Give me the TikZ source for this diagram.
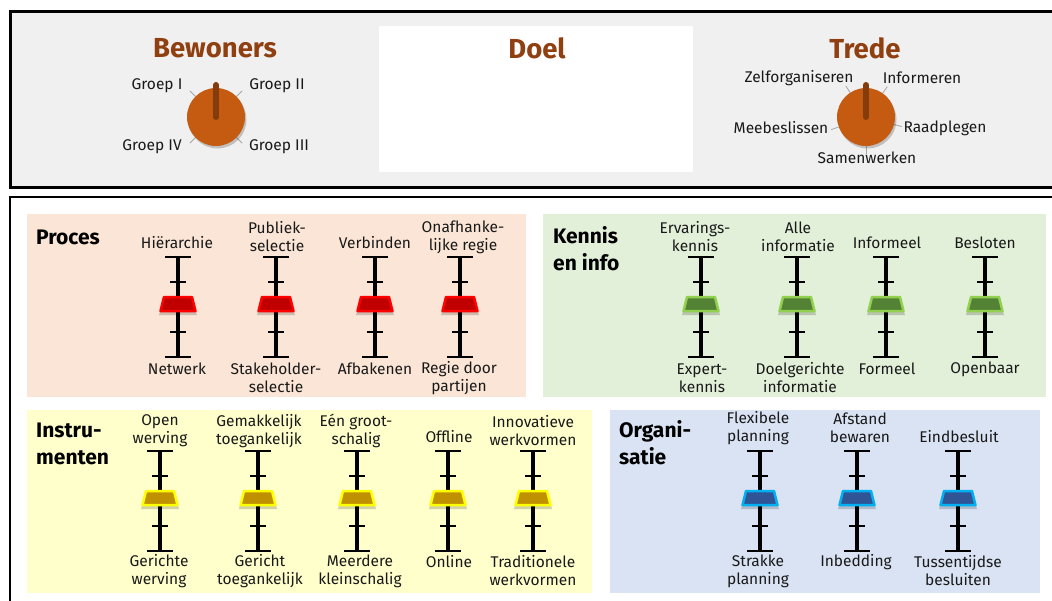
\documentclass[tikz,border=0pt]{standalone}
\usepackage{fontspec}
\setmainfont{Fira Sans}
\usetikzlibrary{calc}
\definecolor{topgray}{HTML}{F0F0F0}
\definecolor{titlebrown}{HTML}{8F3F10}
\definecolor{dialorange}{HTML}{C55A11}
\definecolor{pointerbrown}{HTML}{843C0C}
\definecolor{procfill}{HTML}{FBE5D6}
\definecolor{kennfill}{HTML}{E2F0D9}
\definecolor{instfill}{HTML}{FFFFCC}
\definecolor{orgfill}{HTML}{DAE3F3}
\definecolor{redfill}{HTML}{C00000}
\definecolor{redline}{HTML}{FF0000}
\definecolor{greenfill}{HTML}{548235}
\definecolor{greenline}{HTML}{92D050}
\definecolor{yelfill}{HTML}{BF9000}
\definecolor{yelline}{HTML}{FFFF00}
\definecolor{bluefill}{HTML}{2F5597}
\definecolor{blueline}{HTML}{00B0F0}
\definecolor{tickgray}{HTML}{A6A6A6}
\newcommand\mkslider[4]{%
 \begin{scope}[shift={(#1,#2)}]
  \draw[line width=3.5] (0,0) -- (0,100);
  \draw[line width=2.2] (-13,0) -- (13,0) (-13,100) -- (13,100);
  \draw[line width=1.3] (-8,25) -- (8,25) (-8,75) -- (8,75);
  \fill[black, opacity=.18] (-15,43) -- (15,43) -- (19,58) -- (-19,58) -- cycle;
  \filldraw[fill=#3, draw=#4, line width=2.5, line join=round] (-14,40) -- (14,40) -- (17.5,54) -- (-17.5,54) -- cycle;
 \end{scope}}
\tikzset{
  lbl/.style={font=\fontsize{15.5}{18}\selectfont, align=center, inner sep=0pt, text=black!90},
  ptitle/.style={font=\fontsize{21}{27}\selectfont\bfseries, align=left, inner sep=0pt, anchor=base west},
  htitle/.style={font=\fontsize{27.5}{30}\selectfont\bfseries, text=titlebrown, inner sep=0pt},
  dialtick/.style={draw=tickgray, line width=0.8},
  pointer/.style={draw=pointerbrown, line width=6, line cap=round},
  dial/.style={fill=dialorange}
}
\begin{document}
\begin{tikzpicture}[x=1pt,y=-1pt]
\useasboundingbox (0,0) rectangle (1052,600);
\clip (0,0) rectangle (1052,600);
% frames
\draw[line width=3, fill=topgray] (10,11) rectangle (1070,187);
\draw[line width=2.5, fill=white] (10,197) rectangle (1070,640);
\fill[white] (379,26) rectangle (693,172);
\node[htitle] (tbew) at (215,48) {Bewoners};
\node[htitle] (tdoel) at (537,48) {Doel};
\node[htitle] (ttrede) at (865,48) {Trede};
% Bewoners dial
\coordinate (c1) at (216,117);
\foreach \a in {45,135,225,315}{\draw[dialtick] ($(c1)+(\a:-29)$) -- ($(c1)+(\a:-37)$);}
\fill[black, opacity=.2] ($(c1)+(1.5,2.5)$) circle (29);
\fill[dial] (c1) circle (29);
\draw[pointer] ($(c1)+(0,-32)$) -- ($(c1)+(0,0)$);
\node[lbl] (g1) at (157,86) {Groep I};
\node[lbl] (g2) at (277,86) {Groep II};
\node[lbl] (g4) at (152,147) {Groep IV};
\node[lbl] (g3) at (279,147) {Groep III};
% Trede dial
\coordinate (c2) at (866,117);
\foreach \a in {55,123,200,270,-15}{\draw[dialtick] ($(c2)+(\a:29 and -29)$) -- ($(c2)+(\a:37 and -37)$);}
\fill[black, opacity=.2] ($(c2)+(1.5,2.5)$) circle (29);
\fill[dial] (c2) circle (29);
\draw[pointer] ($(c2)+(0,-32)$) -- ($(c2)+(0,0)$);
\node[lbl] (zelf) at (799,78) {Zelforganiseren};
\node[lbl] (info) at (922,78) {Informeren};
\node[lbl] (mee) at (781,128) {Meebeslissen};
\node[lbl] (raad) at (945,128) {Raadplegen};
\node[lbl] (samen) at (867,158) {Samenwerken};
% panels
\fill[procfill] (27,214) rectangle (526,397);
\fill[kennfill] (543,214) rectangle (1046,397);
\fill[instfill] (27,410) rectangle (592,593);
\fill[orgfill] (610,410) rectangle (1040,593);
\node[ptitle] (pproc) at (36,244) {Proces};
\node[ptitle] (pkenn) at (553,270) {Kennis\\en info};
\node[ptitle] (pinst) at (36,464) {Instru-\\menten};
\node[ptitle] (porg) at (619,464) {Organi-\\satie};
% Proces sliders
\mkslider{178}{257}{redfill}{redline}
\mkslider{276}{257}{redfill}{redline}
\mkslider{375}{257}{redfill}{redline}
\mkslider{460}{257}{redfill}{redline}
\node[lbl] (p1t) at (177,243) {Hiërarchie};
\node[lbl] (p2t) at (277,237) {Publiek-\\selectie};
\node[lbl] (p3t) at (375,243) {Verbinden};
\node[lbl] (p4t) at (463,237) {Onafhanke-\\lijke regie};
\node[lbl] (p1b) at (177,369) {Netwerk};
\node[lbl] (p2b) at (276,378) {Stakeholder-\\selectie};
\node[lbl] (p3b) at (375,369) {Afbakenen};
\node[lbl] (p4b) at (459,378) {Regie door\\partijen};
% Kennis sliders
\mkslider{701}{257}{greenfill}{greenline}
\mkslider{797}{257}{greenfill}{greenline}
\mkslider{886}{257}{greenfill}{greenline}
\mkslider{985}{257}{greenfill}{greenline}
\node[lbl] (k1t) at (695,237) {Ervarings-\\kennis};
\node[lbl] (k2t) at (798,237) {Alle\\informatie};
\node[lbl] (k3t) at (887,243) {Informeel};
\node[lbl] (k4t) at (985,243) {Besloten};
\node[lbl] (k1b) at (702,378) {Expert-\\kennis};
\node[lbl] (k2b) at (800,378) {Doelgerichte\\informatie};
\node[lbl] (k3b) at (887,369) {Formeel};
\node[lbl] (k4b) at (985,369) {Openbaar};
% Instrumenten sliders
\mkslider{160}{451}{yelfill}{yelline}
\mkslider{258}{451}{yelfill}{yelline}
\mkslider{357}{451}{yelfill}{yelline}
\mkslider{448}{451}{yelfill}{yelline}
\mkslider{533}{451}{yelfill}{yelline}
\node[lbl] (i1t) at (160,431) {Open\\werving};
\node[lbl] (i2t) at (259,431) {Gemakkelijk\\toegankelijk};
\node[lbl] (i3t) at (356,431) {Eén groot-\\schalig};
\node[lbl] (i4t) at (449,437) {Offline};
\node[lbl] (i5t) at (533,431) {Innovatieve\\werkvormen};
\node[lbl] (i1b) at (159,571) {Gerichte\\werving};
\node[lbl] (i2b) at (260,571) {Gericht\\toegankelijk};
\node[lbl] (i3b) at (360,571) {Meerdere\\kleinschalig};
\node[lbl] (i4b) at (449,562) {Online};
\node[lbl] (i5b) at (533,571) {Traditionele\\werkvormen};
% Organisatie sliders
\mkslider{760}{451}{bluefill}{blueline}
\mkslider{857}{451}{bluefill}{blueline}
\mkslider{958}{451}{bluefill}{blueline}
\node[lbl] (o1t) at (758,428) {Flexibele\\planning};
\node[lbl] (o2t) at (860,428) {Afstand\\bewaren};
\node[lbl] (o3t) at (959,437) {Eindbesluit};
\node[lbl] (o1b) at (758,571) {Strakke\\planning};
\node[lbl] (o2b) at (856,562) {Inbedding};
\node[lbl] (o3b) at (958,571) {Tussentijdse\\besluiten};
\end{tikzpicture}
\end{document}
